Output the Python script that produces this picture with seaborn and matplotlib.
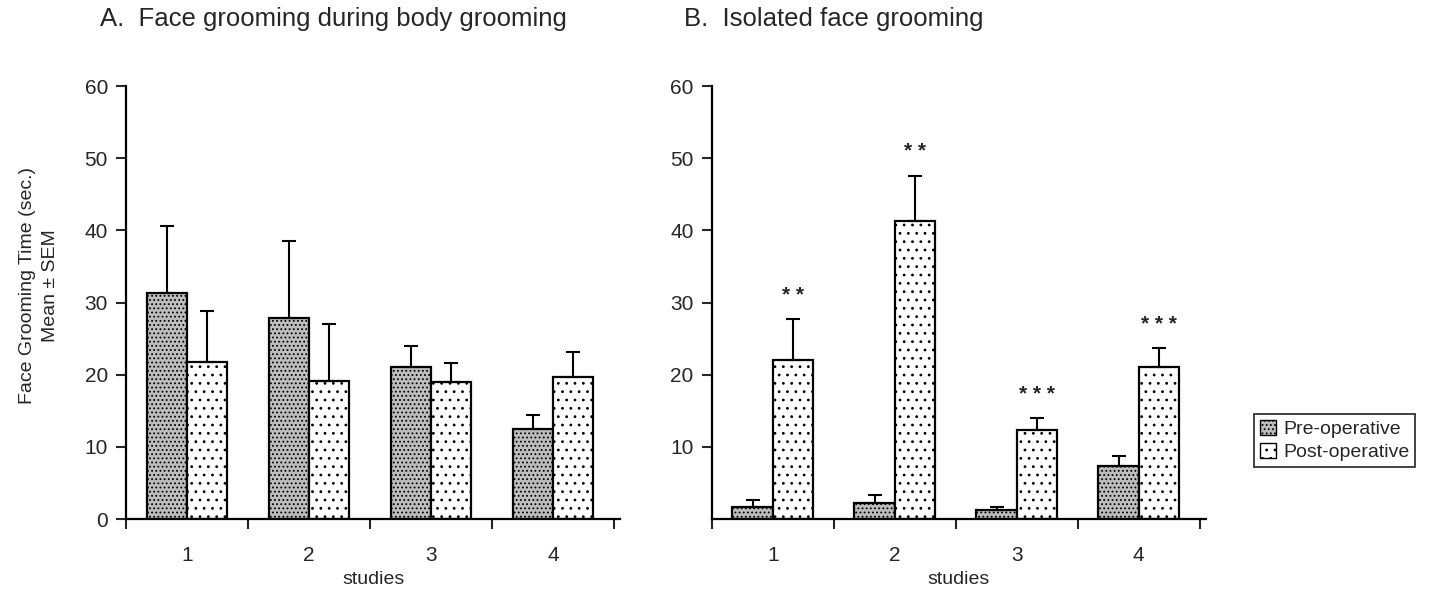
import matplotlib
matplotlib.use("Agg")
import matplotlib.pyplot as plt
import seaborn as sns
import pandas as pd
from matplotlib.patches import Patch

studies = ["1", "2", "3", "4"]
phases = ["Pre-operative", "Post-operative"]

# panel A: face grooming during body grooming
a_pre = [31.4, 27.9, 21.1, 12.5]
a_pre_sem = [9.2, 10.6, 2.9, 2.0]
a_post = [21.8, 19.2, 19.0, 19.7]
a_post_sem = [7.0, 7.8, 2.6, 3.5]

# panel B: isolated face grooming
b_pre = [1.7, 2.3, 1.3, 7.4]
b_pre_sem = [1.0, 1.1, 0.4, 1.3]
b_post = [22.0, 41.3, 12.4, 21.1]
b_post_sem = [5.7, 6.3, 1.6, 2.6]
b_stars = ["* *", "* *", "* * *", "* * *"]

titles = ["A.  Face grooming during body grooming", "B.  Isolated face grooming"]

sns.set_style("white")
plt.rcParams["font.family"] = ["Liberation Sans", "DejaVu Sans"]

styles = {
    "Pre-operative": dict(facecolor="#bdbdbd", hatch="...."),
    "Post-operative": dict(facecolor="white", hatch=".."),
}
plt.rcParams["hatch.linewidth"] = 0.8


def panel(ax, pre, pre_sem, post, post_sem, yticks, stars=None):
    df = pd.DataFrame({
        "study": studies * 2,
        "phase": [phases[0]] * 4 + [phases[1]] * 4,
        "value": pre + post,
    })
    sns.barplot(data=df, x="study", y="value", hue="phase", order=studies,
                hue_order=phases, errorbar=None, width=0.66, ax=ax,
                edgecolor="black", linewidth=1.6, legend=False)
    bars = ax.patches[:8]
    sems = pre_sem + post_sem
    for i, (bar, sem) in enumerate(zip(bars, sems)):
        st = styles[phases[i // 4]]
        bar.set_facecolor(st["facecolor"])
        bar.set_hatch(st["hatch"])
        xc = bar.get_x() + bar.get_width() / 2
        top = bar.get_height()
        ax.errorbar(xc, top, yerr=[[0], [sem]], fmt="none", ecolor="black",
                    elinewidth=1.5, capsize=5, capthick=1.5, zorder=1)
        if stars is not None and i >= 4:
            ax.text(xc, top + sem + 2.0, stars[i - 4], ha="center", va="bottom",
                    fontsize=15, fontweight="bold")
    ax.set_xlim(-0.5, 3.55)
    ax.set_ylim(0, 60)
    ax.set_yticks(yticks)
    ax.set_xticks([-0.5, 0.5, 1.5, 2.5, 3.5], minor=True)
    ax.set_xticks(range(4))
    ax.set_xticklabels(studies)
    ax.tick_params(axis="x", which="major", length=0, labelsize=15, pad=19)
    ax.tick_params(axis="x", which="minor", length=7, width=1.5, direction="out",
                   bottom=True)
    ax.tick_params(axis="y", length=7, width=1.5, direction="out", left=True,
                   labelsize=15, pad=6)
    ax.set_xlabel("studies", fontsize=14, labelpad=5)
    ax.set_ylabel("")
    sns.despine(ax=ax)
    for s in ["left", "bottom"]:
        ax.spines[s].set_linewidth(1.6)
        ax.spines[s].set_color("black")


fig = plt.figure(figsize=(14.32, 5.94), dpi=100)
ax1 = fig.add_axes([0.088, 0.126, 0.345, 0.729])
ax2 = fig.add_axes([0.497, 0.126, 0.345, 0.729])

panel(ax1, a_pre, a_pre_sem, a_post, a_post_sem, [0, 10, 20, 30, 40, 50, 60])
panel(ax2, b_pre, b_pre_sem, b_post, b_post_sem, [10, 20, 30, 40, 50, 60], b_stars)

ax1.set_ylabel("Face Grooming Time (sec.)\nMean ± SEM", fontsize=14,
               linespacing=1.45)
ax1.yaxis.set_label_coords(-0.135, 0.54)

fig.text(0.07, 0.968, titles[0], fontsize=18.5, va="center")
fig.text(0.478, 0.968, titles[1], fontsize=18.5, va="center")

handles = [Patch(facecolor=styles[p]["facecolor"], hatch=styles[p]["hatch"],
                 edgecolor="black", label=p) for p in phases]
leg = fig.legend(handles=handles, loc="center left", bbox_to_anchor=(0.869, 0.258),
                 fontsize=14, frameon=True, fancybox=False, handlelength=0.8,
                 handleheight=0.8, handletextpad=0.4, borderpad=0.3,
                 labelspacing=0.25)
leg.get_frame().set_edgecolor("black")
leg.get_frame().set_linewidth(1.3)

fig.savefig("out.png", dpi=100, facecolor="white")
